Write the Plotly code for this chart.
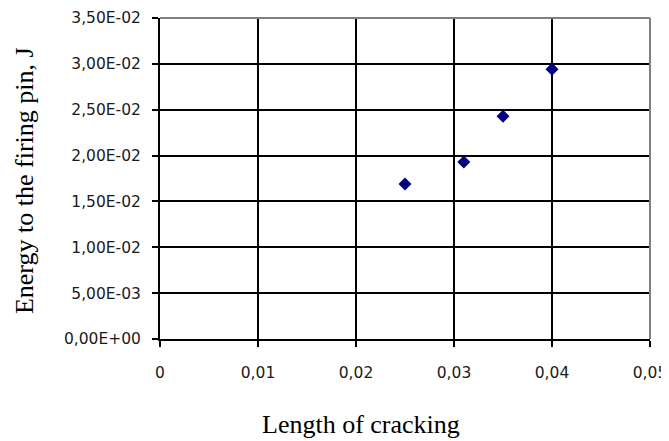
import plotly.graph_objects as go

# Data
crack_length = [0.025, 0.031, 0.035, 0.040]
energy = [0.0169, 0.0193, 0.0243, 0.0294]

x_tickvals = [0, 0.01, 0.02, 0.03, 0.04, 0.05]
x_ticktext = ["0", "0,01", "0,02", "0,03", "0,04", "0,05"]
y_tickvals = [0, 0.005, 0.010, 0.015, 0.020, 0.025, 0.030, 0.035]
y_ticktext = ["0,00E+00", "5,00E-03", "1,00E-02", "1,50E-02",
              "2,00E-02", "2,50E-02", "3,00E-02", "3,50E-02"]

x_title = "Length of cracking"
y_title = "Energy to the firing pin, J"

fig = go.Figure()
fig.add_trace(go.Scatter(
    x=crack_length, y=energy, mode="markers",
    marker=dict(symbol="diamond", size=10, color="#000080",
                line=dict(width=0)),
    showlegend=False,
))

tick_font = dict(family="DejaVu Sans", size=15.5, color="#1a1a1a")

# The page body has an 8px margin, so the figure is sized to fit the window.
fig.update_layout(
    template="none",
    width=661, height=433,
    margin=dict(l=152, r=19, t=10, b=102, autoexpand=False),
    paper_bgcolor="white", plot_bgcolor="white",
    xaxis=dict(
        range=[0, 0.05], tickvals=x_tickvals, ticktext=x_ticktext,
        showgrid=True, gridcolor="black", gridwidth=2,
        zeroline=False, showline=True, linecolor="black", linewidth=2,
        ticks="outside", ticklen=6, tickwidth=2, tickcolor="black",
        tickfont=tick_font, ticklabelstandoff=12, automargin=False,
    ),
    yaxis=dict(
        range=[0, 0.035], tickvals=y_tickvals, ticktext=y_ticktext,
        showgrid=True, gridcolor="black", gridwidth=2,
        zeroline=False, showline=True, linecolor="black", linewidth=2,
        ticks="outside", ticklen=6, tickwidth=2, tickcolor="black",
        tickfont=tick_font, ticklabelstandoff=8, automargin=False,
    ),
    shapes=[
        dict(type="line", xref="paper", yref="paper", x0=0, x1=1, y0=1, y1=1,
             line=dict(color="#808080", width=2), layer="above"),
        dict(type="line", xref="paper", yref="paper", x0=1, x1=1, y0=0, y1=1,
             line=dict(color="#808080", width=2), layer="above"),
    ],
    annotations=[
        dict(text=x_title, xref="paper", yref="paper", x=0.41, y=-0.265,
             xanchor="center", yanchor="middle", showarrow=False,
             font=dict(family="Liberation Serif", size=26, color="black")),
        dict(text=y_title, xref="paper", yref="paper", x=-0.2776, y=0.495,
             xanchor="center", yanchor="middle", showarrow=False, textangle=-90,
             font=dict(family="Liberation Serif", size=26, color="black")),
    ],
)

fig.write_html("out.html")
